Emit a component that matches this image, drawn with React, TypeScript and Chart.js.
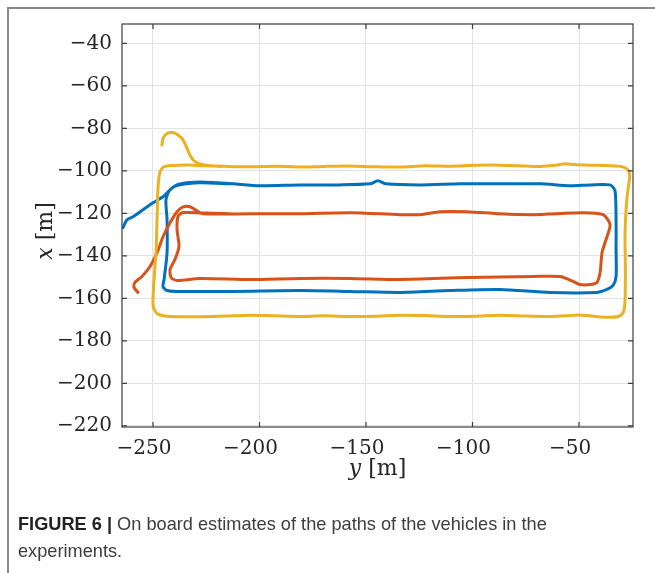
import React, { useEffect, useRef } from "react";
import { Chart, registerables } from "chart.js";

Chart.register(...registerables);

// Axis ranges (horizontal axis is "y [m]", vertical axis is "x [m]")
const H_MIN = -264.55;
const H_MAX = -24.65;
const V_MIN = -220.5;
const V_MAX = -30.9;

const H_TICKS = [-250, -200, -150, -100, -50];
const V_TICKS = [-220, -200, -180, -160, -140, -120, -100, -80, -60, -40];

// Vehicle 1 (blue)
const blueH = [
  -264.1, -262.2, -259.4, -254.7, -250, -245.3, -242, -238.7, -234, -227.9, -220, -212.4, -199.8,
  -181, -162.2, -148.1, -144.4, -140.6, -124.6, -105.9, -87.1, -68.3, -54.2, -44.8, -35.4, -33.1,
  -32.6, -32.6, -32.6, -34, -36.9, -41.6, -63.6, -87.1, -110.6, -134, -157.5, -181, -212.4, -238.7,
  -243.4, -245.3, -244.8, -243.4, -243.4, -243.9, -242, -237.3, -227.9, -213.8,
];
const blueV = [
  -126.7, -123, -121.6, -118.3, -115, -112.2, -108.9, -106.6, -105.6, -105.2, -105.6, -106.1, -107,
  -106.6, -106.6, -106.1, -104.7, -106.1, -106.6, -106.1, -106.1, -106.1, -107, -106.6, -106.6, -109.4,
  -123, -137, -149.7, -153.9, -155.8, -157.2, -157.2, -155.8, -156.3, -157.2, -156.7, -156.3, -156.7, -156.7,
  -156.3, -154.4, -151.1, -138.5, -123, -113.6, -108.9, -106.6, -105.6, -106.1,
];

// Vehicle 2 (orange)
const orangeH = [
  -257, -258.9, -258.5, -255.2, -251.4, -248.1, -245.3, -242, -238.7, -235.9, -232.6, -229.3, -226.5,
  -204.5, -181, -157.5, -134, -124.6, -115.3, -102.6, -87.1, -71.6, -48.1, -38.7, -35.4, -37.8, -39.2,
  -40.1, -41.6, -44.8, -49.5, -52.8, -58.9, -71.6, -102.6, -134, -157.5, -181, -204.5, -227.9, -238.7,
  -241.5, -242, -239.7, -237.8, -238.7, -238.3, -236.4, -230.3, -213.8,
];
const orangeV = [
  -157.2, -154.9, -152.5, -149.7, -145, -138.5, -131, -124.4, -119.2, -116.9, -116.9, -118.8, -120.2,
  -120.2, -120.2, -119.7, -120.6, -120.6, -119.2, -119.2, -120.2, -120.6, -119.7, -120.6, -125.3, -133.8, -138.5,
  -147.8, -152.5, -153.5, -153.5, -152, -149.7, -149.7, -150.2, -151.1, -150.6, -150.6, -151.1, -150.6, -151.6,
  -150.2, -146.4, -141.7, -135.6, -127.7, -121.6, -119.7, -119.7, -120.2,
];

// Vehicle 3 (yellow)
const yellowH = [
  -245.8, -245.2, -243.4, -241, -238.6, -236.2, -234.4, -232.8, -231, -228.5, -224, -215, -204.5, -192,
  -181, -170, -157.5, -146, -134, -122, -110.6, -99, -87.1, -75, -68.3, -60, -56.6, -52, -44.8, -38, -33.1,
  -29.5, -27, -26.2, -26.6, -27.4, -28, -28.4, -28.3, -28.2, -28.3, -28.5, -29.2, -31.2, -35, -40, -45, -50,
  -56, -63.6, -75, -87.1, -99, -110.6, -122, -134, -146, -157.5, -170, -181, -193, -204.5, -216, -227.9,
  -238, -244.4, -247.6, -249.3, -250, -249.9, -249.5, -249, -248.5, -248.3, -248.1, -247.9, -247.7, -247.2,
  -246.5, -245, -242, -237, -232.6, -226, -218,
];
const yellowV = [
  -87.8, -84.5, -82.4, -82, -82.9, -85, -88.5, -92.3, -95, -96.6, -97.5, -97.9, -98.1, -97.8,
  -98.2, -97.9, -97.7, -98.1, -98.2, -97.6, -97.8, -97.4, -97.3, -97.7, -97.9, -97.2, -96.6, -97, -97.3, -97.5, -97.7,
  -98.1, -99.5, -102.5, -106, -112, -120, -130, -140, -150, -158, -163, -166.6, -168.4, -168.9, -168.7, -168.2, -167.8,
  -168.2, -168.5, -168.3, -167.9, -168.4, -168.5, -168.1, -167.9, -168.4, -168.5, -168.2, -168.5, -168.2, -167.9, -168.3, -168.6,
  -168.6, -168.3, -167.4, -165.5, -162.8, -158, -151, -144, -137, -130, -123, -116, -109, -103,
  -100, -98.2, -97.5, -97.3, -97.2, -97.6, -97.9,
];

const BLUE = "#0072BD";
const ORANGE = "#D95319";
const YELLOW = "#EDB120";

const TICK_FONT = '"DejaVu Serif", "Liberation Serif", serif';

const fmt = (v: number) => (v < 0 ? "\u2212" + Math.abs(v) : String(v));

const pts = (h: number[], v: number[]) => h.map((x, i) => ({ x, y: v[i] }));

function drawMixed(
  ctx: CanvasRenderingContext2D,
  parts: [string, boolean][],
  size: number
) {
  const fonts = parts.map(([, it]) => `${it ? "italic " : ""}${size}px ${TICK_FONT}`);
  const widths = parts.map(([t], i) => {
    ctx.font = fonts[i];
    return ctx.measureText(t).width;
  });
  const total = widths.reduce((a, b) => a + b, 0);
  let x = -total / 2;
  ctx.textAlign = "left";
  ctx.textBaseline = "middle";
  parts.forEach(([t], i) => {
    ctx.font = fonts[i];
    ctx.fillText(t, x, 0);
    x += widths[i];
  });
}

const framePlugin = {
  id: "matlabFrame",
  afterDatasetsDraw(chart: any) {
    const { ctx, chartArea: a, scales } = chart;
    const xs = scales.x;
    const ys = scales.y;
    ctx.save();
    ctx.strokeStyle = "#3d3d3d";
    ctx.lineWidth = 1.2;
    ctx.strokeRect(a.left, a.top, a.right - a.left, a.bottom - a.top);
    const tl = 5;
    ctx.beginPath();
    H_TICKS.forEach((v) => {
      const px = xs.getPixelForValue(v);
      ctx.moveTo(px, a.bottom);
      ctx.lineTo(px, a.bottom - tl);
      ctx.moveTo(px, a.top);
      ctx.lineTo(px, a.top + tl);
    });
    V_TICKS.forEach((v) => {
      const py = ys.getPixelForValue(v);
      ctx.moveTo(a.left, py);
      ctx.lineTo(a.left + tl, py);
      ctx.moveTo(a.right, py);
      ctx.lineTo(a.right - tl, py);
    });
    ctx.stroke();
    ctx.restore();
  },
  afterDraw(chart: any) {
    const { ctx, chartArea: a } = chart;
    ctx.save();
    ctx.fillStyle = "#262626";
    ctx.translate((a.left + a.right) / 2, 469);
    drawMixed(ctx, [["y", true], [" [m]", false]], 22);
    ctx.restore();
    ctx.save();
    ctx.fillStyle = "#262626";
    ctx.translate(46, 231);
    ctx.rotate(-Math.PI / 2);
    drawMixed(ctx, [["x", true], [" [m]", false]], 22);
    ctx.restore();
  },
};

export default function App() {
  const ref = useRef<HTMLCanvasElement | null>(null);

  useEffect(() => {
    if (!ref.current) return;
    const ds = (label: string, h: number[], v: number[], color: string) => ({
      label,
      data: pts(h, v),
      showLine: true,
      borderColor: color,
      backgroundColor: color,
      borderWidth: 3,
      pointRadius: 0,
      tension: 0.25,
      borderCapStyle: "round" as const,
      borderJoinStyle: "round" as const,
      fill: false,
    });
    const chart = new Chart(ref.current, {
      type: "scatter",
      data: {
        datasets: [
          ds("Vehicle 3", yellowH, yellowV, YELLOW),
          ds("Vehicle 2", orangeH, orangeV, ORANGE),
          ds("Vehicle 1", blueH, blueV, BLUE),
        ],
      },
      options: {
        responsive: false,
        animation: false,
        layout: { padding: { left: 0, top: 24, right: 22, bottom: 0 } },
        plugins: { legend: { display: false }, tooltip: { enabled: false } },
        scales: {
          x: {
            type: "linear",
            min: H_MIN,
            max: H_MAX,
            afterBuildTicks: (s: any) => {
              s.ticks = H_TICKS.map((value) => ({ value }));
            },
            afterFit: (s: any) => {
              s.height = 146;
            },
            grid: { color: "#e3e3e3", lineWidth: 1, drawTicks: false },
            border: { display: false },
            ticks: {
              callback: (v: any) => fmt(Number(v)),
              font: { family: TICK_FONT, size: 20 },
              color: "#262626",
              padding: 10,
              labelOffset: -9,
              maxRotation: 0,
              autoSkip: false,
            },
          },
          y: {
            type: "linear",
            min: V_MIN,
            max: V_MAX,
            afterBuildTicks: (s: any) => {
              s.ticks = V_TICKS.map((value) => ({ value }));
            },
            afterFit: (s: any) => {
              s.width = 122;
            },
            grid: { color: "#e3e3e3", lineWidth: 1, drawTicks: false },
            border: { display: false },
            ticks: {
              callback: (v: any) => fmt(Number(v)),
              font: { family: TICK_FONT, size: 20 },
              color: "#262626",
              padding: 10,
              autoSkip: false,
            },
          },
        },
      },
      plugins: [framePlugin],
    });
    return () => chart.destroy();
  }, []);

  return (
    <div style={{ position: "absolute", left: 0, top: 0, width: 655, height: 573, background: "#fff", overflow: "hidden" }}>
      <div
        style={{
          position: "absolute",
          left: 7,
          top: 7,
          width: 700,
          height: 700,
          borderLeft: "2px solid #8a8a8a",
          borderTop: "2px solid #8a8a8a",
        }}
      />
      <canvas ref={ref} width={655} height={573} style={{ position: "absolute", left: 0, top: 0, display: "block" }} />
      <div
        style={{
          position: "absolute",
          left: 18,
          top: 511,
          fontFamily: '"Liberation Sans", Arial, sans-serif',
          fontSize: 18.2,
          lineHeight: "27px",
          color: "#3d3d3d",
          whiteSpace: "nowrap",
        }}
      >
        <b style={{ color: "#222" }}>FIGURE 6 |</b> On board estimates of the paths of the vehicles in the
        <br />
        experiments.
      </div>
    </div>
  );
}
